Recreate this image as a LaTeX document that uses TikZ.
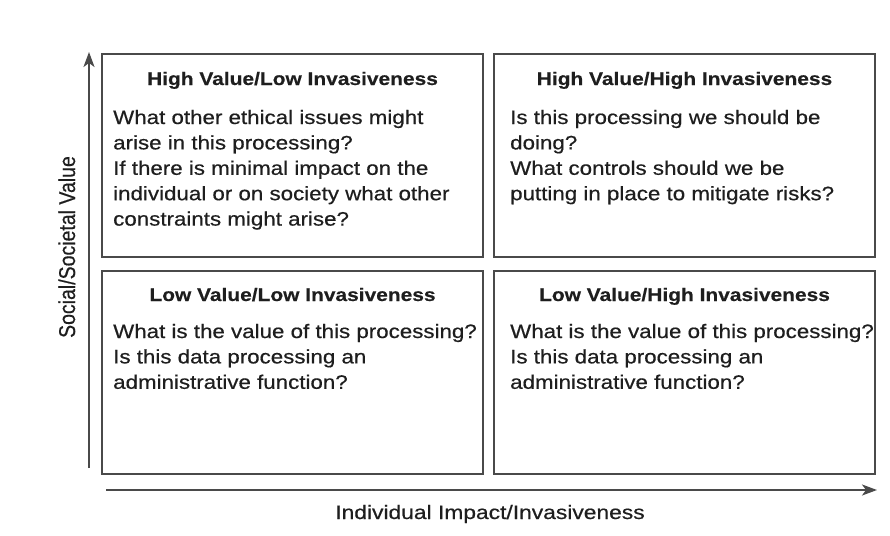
\documentclass[tikz,border=0pt]{standalone}
\usepackage{fontspec}
\usetikzlibrary{arrows.meta}
\newfontfamily\bodyfont{Liberation Sans}[FakeStretch=1.145, FakeBold=0.5]
\newfontfamily\headfont{Liberation Sans}[FakeStretch=1.15, FakeBold=0.35]
\newfontfamily\labelfont{Liberation Sans}[FakeStretch=1.17, FakeBold=0.5]
\newfontfamily\plainfont{Liberation Sans}[FakeBold=0.5]
\definecolor{ink}{HTML}{1E1E1E}
\definecolor{rule}{HTML}{4A4A4A}
\newcommand{\qlines}[1]{\begin{tabular}[t]{@{}l@{}}#1\end{tabular}}
\tikzset{
  quad/.style={draw=rule, line width=1.7pt},
  head/.style={anchor=base, inner sep=0pt, text=ink,
    font=\headfont\bfseries\fontsize{18.2}{22}\selectfont},
  body/.style={anchor=base west, inner sep=0pt, text=ink,
    font=\bodyfont\fontsize{19.5}{25.4}\selectfont},
  axislabel/.style={anchor=base, inner sep=0pt, text=ink,
    font=\labelfont\fontsize{19.5}{24}\selectfont},
  axis/.style={draw=rule, line width=1.7pt,
    -{Stealth[length=15pt, width=11pt, inset=4pt]}}
}
\begin{document}
\begin{tikzpicture}[x=1pt, y=-1pt]
  \useasboundingbox[fill=white] (0,0) rectangle (890,535);

  % quadrant frames
  \draw[quad] (102,54) rectangle (483,257);
  \draw[quad] (494,54) rectangle (875,257);
  \draw[quad] (102,271) rectangle (483,474);
  \draw[quad] (494,271) rectangle (875,474);

  % quadrant headings
  \node[head] (hvli) at (292.5,85) {High Value/Low Invasiveness};
  \node[head] (hvhi) at (684.5,85) {High Value/High Invasiveness};
  \node[head] (lvli) at (292.5,301) {Low Value/Low Invasiveness};
  \node[head] (lvhi) at (684.5,301) {Low Value/High Invasiveness};

  % quadrant questions
  \node[body] (qhvli) at (113,124) {\qlines{What other ethical issues might\\
    arise in this processing?\\
    If there is minimal impact on the\\
    individual or on society what other\\
    constraints might arise?}};
  \node[body] (qhvhi) at (510,124) {\qlines{Is this processing we should be\\
    doing?\\
    What controls should we be\\
    putting in place to mitigate risks?}};
  \node[body] (qlvli) at (113,338) {\qlines{What is the value of this processing?\\
    Is this data processing an\\
    administrative function?}};
  \node[body] (qlvhi) at (510,338) {\qlines{What is the value of this processing?\\
    Is this data processing an\\
    administrative function?}};

  % axes
  \coordinate (vlow) at (89,468);
  \coordinate (vhigh) at (89,52);
  \coordinate (hlow) at (106,490);
  \coordinate (hhigh) at (877,490);
  \draw[axis] (vlow) -- (vhigh);
  \draw[axis] (hlow) -- (hhigh);

  % axis labels
  \node[axislabel] (xlab) at (490,519) {Individual Impact/Invasiveness};
  \node[anchor=base, inner sep=0pt, text=ink, rotate=90] (ylab) at (75,247)
    {\scalebox{1}[1.17]{\plainfont\fontsize{19.5}{24}\selectfont Social/Societal Value}};
\end{tikzpicture}
\end{document}
